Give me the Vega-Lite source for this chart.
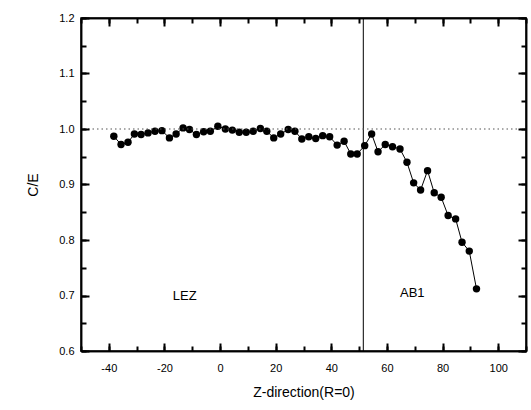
{
  "$schema": "https://vega.github.io/schema/vega-lite/v6.json",
  "autosize": "none",
  "width": 445,
  "height": 333,
  "padding": {"left": 81, "top": 18, "right": 5, "bottom": 59},
  "background": "white",
  "config": {
    "view": {"stroke": "black", "strokeWidth": 1.5},
    "font": "Liberation Sans",
    "axis": {
      "labelColor": "black",
      "labelFont": "Liberation Sans",
      "labelFontSize": 11,
      "titleFont": "Liberation Sans",
      "titleFontSize": 14,
      "titleFontWeight": "normal",
      "titleColor": "black",
      "grid": false,
      "labelFlush": false
    }
  },
  "datasets": {
    "points": [
      {"z": -38.2, "ce": 0.987}, {"z": -35.6, "ce": 0.972}, {"z": -33.1, "ce": 0.976},
      {"z": -30.8, "ce": 0.991}, {"z": -28.4, "ce": 0.990}, {"z": -25.9, "ce": 0.993},
      {"z": -23.4, "ce": 0.996}, {"z": -20.9, "ce": 0.997}, {"z": -18.2, "ce": 0.984},
      {"z": -15.8, "ce": 0.991}, {"z": -13.3, "ce": 1.002}, {"z": -11.0, "ce": 0.999},
      {"z": -8.5, "ce": 0.990}, {"z": -5.9, "ce": 0.995}, {"z": -3.5, "ce": 0.996},
      {"z": -0.8, "ce": 1.005}, {"z": 1.9, "ce": 1.000}, {"z": 4.4, "ce": 0.998},
      {"z": 6.9, "ce": 0.994}, {"z": 9.4, "ce": 0.994}, {"z": 11.9, "ce": 0.996},
      {"z": 14.5, "ce": 1.001}, {"z": 16.8, "ce": 0.996}, {"z": 19.3, "ce": 0.984},
      {"z": 21.8, "ce": 0.991}, {"z": 24.5, "ce": 0.999}, {"z": 26.9, "ce": 0.996},
      {"z": 29.4, "ce": 0.982}, {"z": 31.9, "ce": 0.986}, {"z": 34.4, "ce": 0.983},
      {"z": 36.9, "ce": 0.988}, {"z": 39.4, "ce": 0.986}, {"z": 42.1, "ce": 0.971},
      {"z": 44.6, "ce": 0.978}, {"z": 47.0, "ce": 0.955}, {"z": 49.3, "ce": 0.955},
      {"z": 52.0, "ce": 0.970}, {"z": 54.5, "ce": 0.991}, {"z": 56.8, "ce": 0.959},
      {"z": 59.4, "ce": 0.972}, {"z": 62.0, "ce": 0.968}, {"z": 64.7, "ce": 0.964},
      {"z": 67.2, "ce": 0.940}, {"z": 69.6, "ce": 0.903}, {"z": 72.1, "ce": 0.890},
      {"z": 74.6, "ce": 0.925}, {"z": 77.0, "ce": 0.885}, {"z": 79.5, "ce": 0.877},
      {"z": 82.0, "ce": 0.844}, {"z": 84.7, "ce": 0.838}, {"z": 87.0, "ce": 0.796},
      {"z": 89.6, "ce": 0.780}, {"z": 92.2, "ce": 0.712}
    ],
    "vline": [{"z": 51.5}],
    "hline": [{"ce": 1.0}],
    "labels": [
      {"z": -12.7, "ce": 0.70, "text": "LEZ"},
      {"z": 69.1, "ce": 0.705, "text": "AB1"}
    ]
  },
  "resolve": {"axis": {"x": "independent", "y": "independent"}},
  "layer": [
    {
      "data": {"name": "points"},
      "mark": {"type": "line", "color": "black", "strokeWidth": 1},
      "encoding": {
        "x": {
          "field": "z", "type": "quantitative",
          "scale": {"domain": [-50, 110], "nice": false, "zero": false},
          "axis": {
            "orient": "bottom",
            "title": "Z-direction(R=0)",
            "tickCount": 8,
            "format": "d",
            "labelExpr": "replace(datum.label, '−', '-')",
            "domainColor": "black", "domainWidth": 1.5,
            "tickSize": -8, "tickColor": "black", "tickWidth": 2,
            "zindex": 2,
            "labelPadding": 19,
            "titlePadding": 12
          }
        },
        "y": {
          "field": "ce", "type": "quantitative",
          "scale": {"domain": [0.6, 1.2], "nice": false, "zero": false},
          "axis": {
            "orient": "left",
            "title": "C/E",
            "tickCount": 6,
            "format": ".1f",
            "domainColor": "black", "domainWidth": 1.5,
            "tickSize": -8, "tickColor": "black", "tickWidth": 2,
            "zindex": 2,
            "labelPadding": 15,
            "titlePadding": 18
          }
        }
      }
    },
    {
      "data": {"name": "points"},
      "mark": {"type": "point", "filled": true, "color": "black", "opacity": 1, "size": 55, "shape": "circle"},
      "encoding": {
        "x": {
          "field": "z", "type": "quantitative",
          "axis": {
            "orient": "top", "title": null, "labels": false,
            "domainColor": "black", "domainWidth": 1.5,
            "tickCount": 8, "tickSize": -8, "tickColor": "black", "tickWidth": 2, "zindex": 2
          }
        },
        "y": {
          "field": "ce", "type": "quantitative",
          "axis": {
            "orient": "right", "title": null, "labels": false,
            "domainColor": "black", "domainWidth": 1.5,
            "tickCount": 6, "tickSize": -8, "tickColor": "black", "tickWidth": 2, "zindex": 2
          }
        }
      }
    },
    {
      "data": {"name": "vline"},
      "mark": {"type": "rule", "color": "black", "strokeWidth": 1},
      "encoding": {
        "x": {
          "field": "z", "type": "quantitative",
          "axis": {
            "orient": "top", "title": null, "labels": false,
            "domainColor": "black", "domainWidth": 1.5,
            "tickCount": 16, "tickSize": -5, "tickColor": "black", "tickWidth": 2, "zindex": 2
          }
        }
      }
    },
    {
      "data": {"name": "hline"},
      "mark": {"type": "rule", "color": "#555555", "strokeWidth": 1.2, "strokeDash": [1.5, 3]},
      "encoding": {
        "y": {
          "field": "ce", "type": "quantitative",
          "axis": {
            "orient": "right", "title": null, "labels": false,
            "domainColor": "black", "domainWidth": 1.5,
            "tickCount": 12, "tickSize": -5, "tickColor": "black", "tickWidth": 2, "zindex": 2
          }
        }
      }
    },
    {
      "data": {"name": "labels"},
      "mark": {"type": "text", "font": "Liberation Sans", "fontSize": 13, "color": "black", "align": "center", "baseline": "middle"},
      "encoding": {
        "x": {
          "field": "z", "type": "quantitative",
          "axis": {
            "orient": "bottom", "title": null, "labels": false,
            "domainColor": "black", "domainWidth": 1.5,
            "tickCount": 16, "tickSize": -5, "tickColor": "black", "tickWidth": 2, "zindex": 2
          }
        },
        "y": {
          "field": "ce", "type": "quantitative",
          "axis": {
            "orient": "left", "title": null, "labels": false,
            "domainColor": "black", "domainWidth": 1.5,
            "tickCount": 12, "tickSize": -5, "tickColor": "black", "tickWidth": 2, "zindex": 2
          }
        },
        "text": {"field": "text"}
      }
    }
  ]
}
